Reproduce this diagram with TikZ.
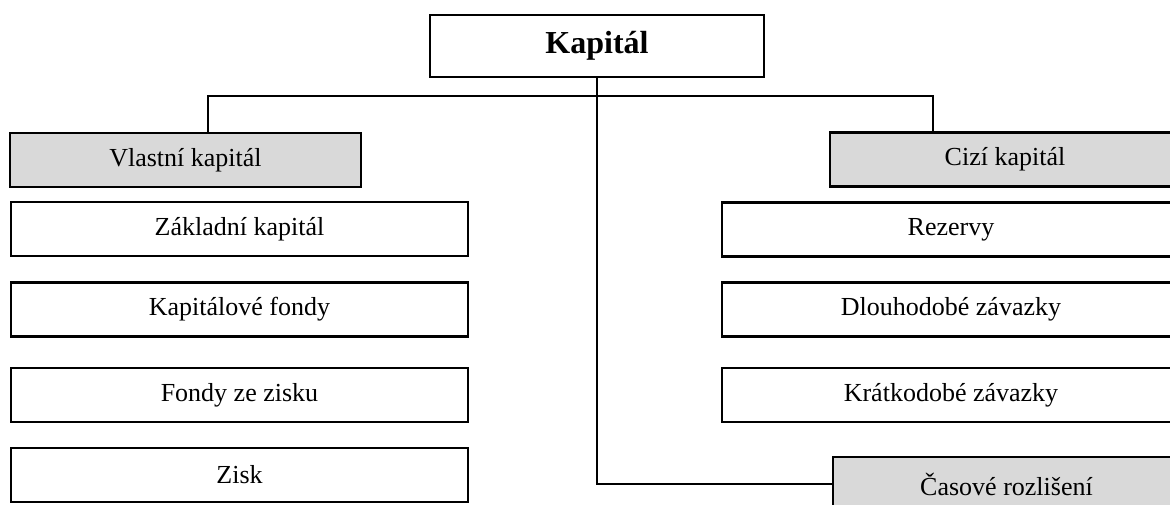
\documentclass[tikz,border=0pt]{standalone}
\usepackage{fontspec}
\setmainfont{Liberation Serif}
\definecolor{boxgray}{RGB}{217,217,217}
\begin{document}
\begin{tikzpicture}[x=1pt,y=-1pt,
  box/.style={draw=black,line width=2.2pt,rectangle,inner sep=0pt,outer sep=0pt,
    minimum height=54pt,font=\fontsize{26}{30}\selectfont,anchor=center},
  graybox/.style={box,fill=boxgray},
  topbox/.style={box,line width=2.6pt,minimum width=334pt,minimum height=62pt,
    font=\fontsize{32}{36}\selectfont\bfseries},
  conn/.style={draw=black,line width=1.2pt}]
\useasboundingbox (0,0) rectangle (1170,505);
% top
\node[topbox] (kap) at (597,46) {Kapitál};
% left column
\node[graybox,minimum width=351pt] (vl) at (185.5,160) {Vlastní kapitál};
\node[box,minimum width=457pt] (zk) at (239.5,229) {Základní kapitál};
\node[box,minimum width=457pt] (kf) at (239.5,309.5) {Kapitálové fondy};
\node[box,minimum width=457pt] (fz) at (239.5,395) {Fondy ze zisku};
\node[box,minimum width=457pt] (zi) at (239.5,475) {Zisk};
% right column
\node[graybox,minimum width=350pt] (ci) at (1005,159.5) {Cizí kapitál};
\node[box,minimum width=458pt] (re) at (951,229.5) {Rezervy};
\node[box,minimum width=458pt] (dz) at (951,309.5) {Dlouhodobé závazky};
\node[box,minimum width=458pt] (kz) at (951,395) {Krátkodobé závazky};
\node[graybox,minimum width=347pt] (cr) at (1006.5,484) {Časové rozlišení};
% connectors
\coordinate (hl) at (208,96);
\coordinate (hr) at (933,96);
\draw[conn] (vl.north -| hl) -- (hl) -- (hr) -- (ci.north -| hr);
\draw[conn] (kap.south) |- (cr.west);
\end{tikzpicture}
\end{document}
